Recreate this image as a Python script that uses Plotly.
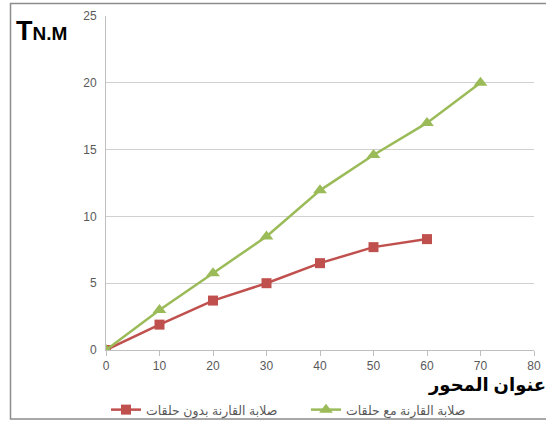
import plotly.graph_objects as go

# Coupling stiffness vs. shaft load
x_without = [0, 10, 20, 30, 40, 50, 60]
y_without = [0, 1.9, 3.7, 5.0, 6.5, 7.7, 8.3]
x_with = [0, 10, 20, 30, 40, 50, 60, 70]
y_with = [0, 3.0, 5.75, 8.5, 11.95, 14.6, 17.0, 20.0]

name_without = "صلابة القارنة بدون حلقات"
name_with = "صلابة القارنة مع حلقات"
x_title = "عنوان المحور"

x_ticks = [0, 10, 20, 30, 40, 50, 60, 70, 80]
y_ticks = [0, 5, 10, 15, 20, 25]

W, H = 546, 422
ML, MR, MT, MB = 106, 12, 16, 72
PW, PH = W - ML - MR, H - MT - MB


def px(xp):
    return (xp - ML) / PW


def py(yp):
    return (H - MB - yp) / PH


font_family = "Liberation Sans, DejaVu Sans, Arial, sans-serif"
tick_col = "#595959"

fig = go.Figure()
fig.add_trace(go.Scatter(
    x=x_without, y=y_without, name=name_without, mode="lines+markers",
    line=dict(color="#c0504d", width=2.5),
    marker=dict(symbol="square", size=10, color="#c0504d"),
))
fig.add_trace(go.Scatter(
    x=x_with, y=y_with, name=name_with, mode="lines+markers",
    line=dict(color="#9bbb59", width=2.5),
    marker=dict(symbol="triangle-up", size=12, color="#9bbb59"),
))

fig.update_layout(
    width=W, height=H,
    margin=dict(l=ML, r=MR, t=MT, b=MB, autoexpand=False),
    paper_bgcolor="white", plot_bgcolor="white",
    font=dict(family=font_family, size=12, color=tick_col),
    showlegend=True,
    legend=dict(
        orientation="h", x=px(106), xanchor="left", y=py(410), yanchor="middle",
        font=dict(size=12.5, color=tick_col), traceorder="normal",
        bgcolor="rgba(0,0,0,0)", itemwidth=30,
        entrywidth=155, entrywidthmode="pixels",
    ),
    xaxis=dict(
        range=[0, 80], tickvals=x_ticks, showgrid=False, zeroline=False,
        showline=True, linecolor="#bfbfbf", linewidth=1,
        ticks="outside", ticklen=5, tickcolor="#bfbfbf",
        tickfont=dict(size=12, color=tick_col),
    ),
    yaxis=dict(
        range=[0, 25], tickvals=y_ticks, showgrid=True, gridcolor="#d0d0d0",
        gridwidth=1, zeroline=False, showline=True, linecolor="#bfbfbf",
        linewidth=1, ticks="", ticklabelstandoff=6,
        tickfont=dict(size=12, color=tick_col),
    ),
    shapes=[dict(
        type="rect", xref="paper", yref="paper",
        x0=px(10.5), x1=px(560), y0=py(419), y1=py(3.5),
        line=dict(color="#8c8c8c", width=1.5), fillcolor="rgba(0,0,0,0)",
        layer="below",
    )],
    annotations=[
        dict(
            text="<b><span style='font-size:27px'>T</span>N.M</b>",
            xref="paper", yref="paper", x=px(14), y=py(31),
            xanchor="left", yanchor="middle", showarrow=False,
            font=dict(size=19, color="black", family=font_family),
        ),
        dict(
            text="<b>" + x_title + "</b>",
            xref="paper", yref="paper", x=px(548), y=py(385),
            xanchor="right", yanchor="middle", showarrow=False,
            font=dict(size=18, color="black", family=font_family),
        ),
    ],
)

fig.write_html("out.html")
